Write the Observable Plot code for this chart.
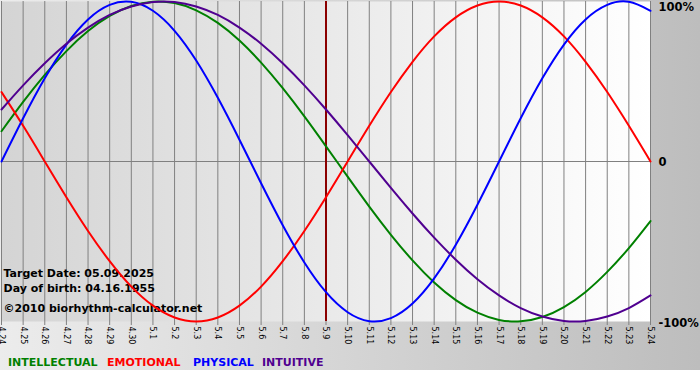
<!DOCTYPE html>
<html><head><meta charset="utf-8">
<script src="https://cdn.jsdelivr.net/npm/d3@7"></script>
<script src="https://cdn.jsdelivr.net/npm/@observablehq/plot@0.6"></script>
<style>
html,body{margin:0;padding:0;background:#fff;}
#wrap{position:relative;width:700px;height:370px;background:linear-gradient(90deg,#ececec,#bdbdbd);font-family:"DejaVu Sans",Verdana,sans-serif;}
#chart svg{display:block;}
#legend span{position:absolute;top:356px;line-height:13px;font-weight:bold;font-size:11px;white-space:nowrap;}
</style></head><body>
<div id="wrap"><div id="chart"></div><div id="legend"></div></div>
<script>
const days = ["4.24","4.25","4.26","4.27","4.28","4.29","4.30","5.1","5.2","5.3","5.4","5.5","5.6","5.7","5.8","5.9","5.10","5.11","5.12","5.13","5.14","5.15","5.16","5.17","5.18","5.19","5.20","5.21","5.22","5.23","5.24"];
const intellectual = [18.9,37.2,54.1,69.0,81.5,91.0,97.2,99.9,99.0,94.5,86.6,75.6,61.8,45.8,28.2,9.5,-9.5,-28.2,-45.8,-61.8,-75.6,-86.6,-94.5,-99.0,-99.9,-97.2,-91.0,-81.5,-69.0,-54.1,-37.2];
const emotional = [43.4,22.3,0,-22.3,-43.4,-62.3,-78.2,-90.1,-97.5,-100,-97.5,-90.1,-78.2,-62.3,-43.4,-22.3,0,22.3,43.4,62.3,78.2,90.1,97.5,100,97.5,90.1,78.2,62.3,43.4,22.3,0];
const physical = [0,27.0,52.0,73.1,88.8,97.9,99.8,94.2,81.7,63.1,39.8,13.6,-13.6,-39.8,-63.1,-81.7,-94.2,-99.8,-97.9,-88.8,-73.1,-52.0,-27.0,0,27.0,52.0,73.1,88.8,97.9,99.8,94.2];
const intuitive = [32.5,47.6,61.4,73.6,83.7,91.6,96.9,99.7,99.7,96.9,91.6,83.7,73.6,61.4,47.6,32.5,16.5,0,-16.5,-32.5,-47.6,-61.4,-73.6,-83.7,-91.6,-96.9,-99.7,-99.7,-96.9,-91.6,-83.7];
const seriesNames = ["INTELLECTUAL","EMOTIONAL","PHYSICAL","INTUITIVE"];
const seriesColors = ["#008000","#ff0000","#0000ff","#500090"];
const targetDay = "5.9";
const targetDate = "05.09.2025";
const birthDate = "04.16.1955";
const copyright = "©2010 biorhythm-calculator.net";
const yTicks = [100, 0, -100];
const yTickLabels = ["100%", "0", "-100%"];

const seriesArrays = [intellectual, emotional, physical, intuitive];
const rows = [];
seriesNames.forEach((name, s) => seriesArrays[s].forEach((v, i) => rows.push({series: name, day: i, value: v})));
const idx = days.map((_, i) => i);
const yLabelDy = [6, 1, 2];
const font = "DejaVu Sans, Verdana, sans-serif";
const infoStyle = {frameAnchor: "top-left", lineAnchor: "middle", dx: 2, textAnchor: "start", fontWeight: "bold", fontSize: 11, fill: "black"};

const plot = Plot.plot({
  width: 700, height: 348,
  marginTop: 1, marginBottom: 27, marginLeft: 1, marginRight: 50,
  style: {background: "transparent", fontFamily: font, overflow: "visible"},
  x: {type: "linear", domain: [0, days.length - 1], axis: null},
  y: {domain: [-100, 100], axis: null},
  color: {domain: seriesNames, range: seriesColors},
  marks: [
    () => {
      const defs = d3.create("svg:defs");
      const g = defs.append("linearGradient").attr("id", "plotbg").attr("x1", 0).attr("x2", 1).attr("y1", 0).attr("y2", 0);
      g.append("stop").attr("offset", 0).attr("stop-color", "#d4d4d4");
      g.append("stop").attr("offset", 1).attr("stop-color", "#ffffff");
      return defs.node();
    },
    Plot.frame({fill: "url(#plotbg)", stroke: "none"}),
    Plot.ruleX(idx, {stroke: "#808080", strokeWidth: 1}),
    Plot.ruleY([0], {stroke: "#808080", strokeWidth: 1}),
    Plot.axisX({ticks: idx, tickFormat: i => days[i], tickRotate: 90, tickSize: 4, tickPadding: 1, fontSize: 8, stroke: "#808080", fill: "black", label: null}),
    Plot.ruleX([days.indexOf(targetDay)], {stroke: "#8b0000", strokeWidth: 2}),
    Plot.text([`Target Date: ${targetDate}`], {...infoStyle, dy: 271.5}),
    Plot.text([`Day of birth: ${birthDate}`], {...infoStyle, dy: 286.5}),
    Plot.text([copyright], {...infoStyle, dy: 306.5}),
    Plot.line(rows, {x: "day", y: "value", z: "series", stroke: "series", strokeWidth: 2, curve: "natural"}),
    ...yTicks.map((t, i) => Plot.text([yTickLabels[i]], {x: days.length - 1, y: t, dx: 8, dy: yLabelDy[i], textAnchor: "start", fontWeight: "bold", fontSize: 11.5, fill: "black"}))
  ]
});
document.getElementById("chart").appendChild(plot);

const legendX = [8, 107, 193, 262];
const legend = document.getElementById("legend");
seriesNames.forEach((n, i) => {
  const s = document.createElement("span");
  s.textContent = n;
  s.style.left = legendX[i] + "px";
  s.style.color = seriesColors[i];
  legend.appendChild(s);
});
</script>
</body></html>
